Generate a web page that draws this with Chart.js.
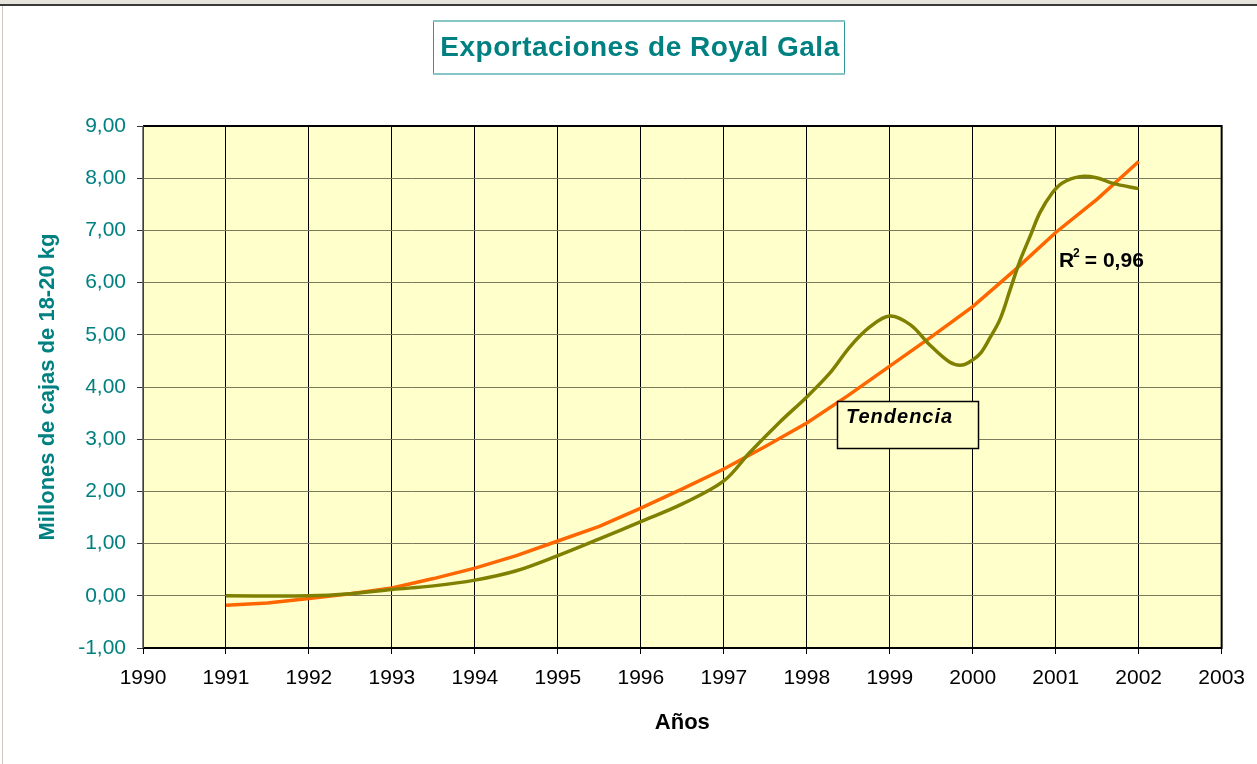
<!DOCTYPE html>
<html>
<head>
<meta charset="utf-8">
<script src="https://cdn.jsdelivr.net/npm/chart.js@4"></script>
<style>
  html, body { margin: 0; padding: 0; background: #fff; }
  canvas { display: block; }
</style>
</head>
<body>
<canvas id="chart" width="1257" height="764"></canvas>
<script>
// exportaciones (millones de cajas)
const exportYears = [1991, 1992, 1992.5, 1993, 1993.5, 1994, 1994.5, 1995, 1995.5, 1996, 1996.5, 1997, 1997.31, 1997.67, 1998, 1998.28, 1998.52, 1998.76, 1999, 1999.25, 1999.48, 1999.72, 1999.87, 2000, 2000.1, 2000.2, 2000.33, 2000.45, 2000.57, 2000.69, 2000.81, 2000.96, 2001.08, 2001.29, 2001.49, 2001.69, 2002];
const exportValues = [0, 0, 0.04, 0.12, 0.19, 0.3, 0.48, 0.77, 1.09, 1.42, 1.76, 2.2, 2.74, 3.32, 3.81, 4.27, 4.77, 5.15, 5.36, 5.19, 4.81, 4.48, 4.42, 4.52, 4.66, 4.92, 5.3, 5.86, 6.42, 6.88, 7.34, 7.72, 7.91, 8.03, 8.01, 7.9, 7.8];

// linea de tendencia
const trendYears = [1991, 1991.5, 1992, 1992.5, 1993, 1993.5, 1994, 1994.5, 1995, 1995.5, 1996, 1996.5, 1997, 1997.5, 1998, 1998.5, 1999, 1999.5, 2000, 2000.5, 2001, 2001.5, 2002];
const trendValues = [-0.18, -0.14, -0.05, 0.04, 0.15, 0.33, 0.53, 0.77, 1.05, 1.33, 1.68, 2.05, 2.43, 2.86, 3.31, 3.84, 4.4, 4.96, 5.54, 6.23, 6.96, 7.6, 8.32];

const yearTicks = [1990, 1991, 1992, 1993, 1994, 1995, 1996, 1997, 1998, 1999, 2000, 2001, 2002, 2003];
const valueTicks = [-1, 0, 1, 2, 3, 4, 5, 6, 7, 8, 9];

const TEAL = "#008080";
const FONT = "'Liberation Sans', Arial, sans-serif";

const decor = {
  id: "decor",
  beforeDraw(chart) {
    const c = chart.ctx;
    const a = chart.chartArea;
    c.save();
    c.fillStyle = "#fff";
    c.fillRect(0, 0, chart.width, chart.height);
    // marco de la pagina
    c.fillStyle = "#e6e2dc";
    c.fillRect(0, 0, chart.width, 4);
    c.fillStyle = "#3a3a3a";
    c.fillRect(0, 4, chart.width, 2);
    c.fillStyle = "#cfcac2";
    c.fillRect(2, 6, 1, chart.height);
    // fondo del area
    c.fillStyle = "#FFFFCC";
    c.fillRect(a.left, a.top, a.right - a.left, a.bottom - a.top);
    c.restore();
  },
  afterDraw(chart) {
    const c = chart.ctx;
    const a = chart.chartArea;
    c.save();
    // borde del area
    c.strokeStyle = "#000";
    c.lineWidth = 2;
    c.beginPath();
    c.moveTo(a.left, a.top);
    c.lineTo(a.right, a.top);
    c.lineTo(a.right, a.bottom);
    c.lineTo(a.left, a.bottom);
    c.stroke();
    c.strokeStyle = "#555";
    c.lineWidth = 1.5;
    c.beginPath();
    c.moveTo(a.left, a.top);
    c.lineTo(a.left, a.bottom);
    c.stroke();

    // titulo en recuadro
    c.fillStyle = "#fff";
    c.fillRect(433, 20, 412, 54);
    c.strokeStyle = "#2f9595";
    c.lineWidth = 1;
    c.strokeRect(433.5, 20.5, 411, 53);
    c.strokeStyle = "#86c6c6";
    c.lineWidth = 2;
    c.beginPath();
    c.moveTo(433, 21); c.lineTo(845, 21);
    c.moveTo(433, 74); c.lineTo(845, 74);
    c.stroke();
    c.fillStyle = TEAL;
    c.font = "bold 28px " + FONT;
    c.letterSpacing = "0.5px";
    c.textAlign = "center";
    c.textBaseline = "middle";
    c.fillText("Exportaciones de Royal Gala", 640, 48);
    c.letterSpacing = "0px";

    // R2
    c.fillStyle = "#000";
    c.textAlign = "left";
    c.textBaseline = "alphabetic";
    c.font = "bold 21px " + FONT;
    c.fillText("R", 1059, 267);
    c.font = "bold 12px " + FONT;
    c.fillText("2", 1073, 257);
    c.font = "bold 21px " + FONT;
    c.fillText(" = 0,96", 1079, 267);

    // etiqueta Tendencia
    c.fillStyle = "#FFFFCC";
    c.fillRect(837, 401, 142, 48);
    c.strokeStyle = "#000";
    c.lineWidth = 1.5;
    c.strokeRect(837.5, 401.5, 141, 47);
    c.fillStyle = "#000";
    c.font = "italic bold 20px " + FONT;
    c.letterSpacing = "1px";
    c.fillText("Tendencia", 846, 423);
    c.restore();
  }
};

new Chart(document.getElementById("chart"), {
  type: "line",
  data: {
    datasets: [
      {
        label: "Exportaciones",
        data: exportYears.map((x, i) => ({ x, y: exportValues[i] })),
        borderColor: "#808000",
        borderWidth: 3.5,
        pointRadius: 0,
        tension: 0.35,
        fill: false
      },
      {
        label: "Tendencia",
        data: trendYears.map((x, i) => ({ x, y: trendValues[i] })),
        borderColor: "#FF6600",
        borderWidth: 3.5,
        pointRadius: 0,
        tension: 0,
        fill: false
      }
    ]
  },
  options: {
    responsive: false,
    animation: false,
    events: [],
    layout: { padding: { left: 0, top: 126, right: 35, bottom: 0 } },
    plugins: {
      legend: { display: false },
      title: { display: false },
      tooltip: { enabled: false }
    },
    scales: {
      x: {
        type: "linear",
        min: 1990,
        max: 2003,
        afterBuildTicks: s => { s.ticks = yearTicks.map(v => ({ value: v })); },
        afterFit: s => { s.height = 116; },
        border: { display: false },
        grid: { color: "#000", lineWidth: 1, tickLength: 6, tickColor: "#000" },
        ticks: {
          color: "#000",
          font: { family: FONT, size: 21 },
          padding: 12,
          maxRotation: 0,
          callback: v => String(v)
        },
        title: {
          display: true,
          text: "Años",
          color: "#000",
          font: { family: FONT, size: 22, weight: "bold" },
          padding: { top: 0, bottom: 28 }
        }
      },
      y: {
        min: -1,
        max: 9,
        afterBuildTicks: s => { s.ticks = valueTicks.map(v => ({ value: v })); },
        afterFit: s => { s.width = 143; },
        border: { display: false },
        grid: { color: "#7a7a5c", lineWidth: 1, tickLength: 6, tickColor: "#333" },
        ticks: {
          color: TEAL,
          font: { family: FONT, size: 21 },
          padding: 11,
          callback: v => v.toFixed(2).replace(".", ",")
        },
        title: {
          display: true,
          text: "Millones de cajas de 18-20 kg",
          color: TEAL,
          font: { family: FONT, size: 22, weight: "bold" },
          padding: { top: 35, bottom: 0 }
        }
      }
    }
  },
  plugins: [decor]
});
</script>
</body>
</html>
